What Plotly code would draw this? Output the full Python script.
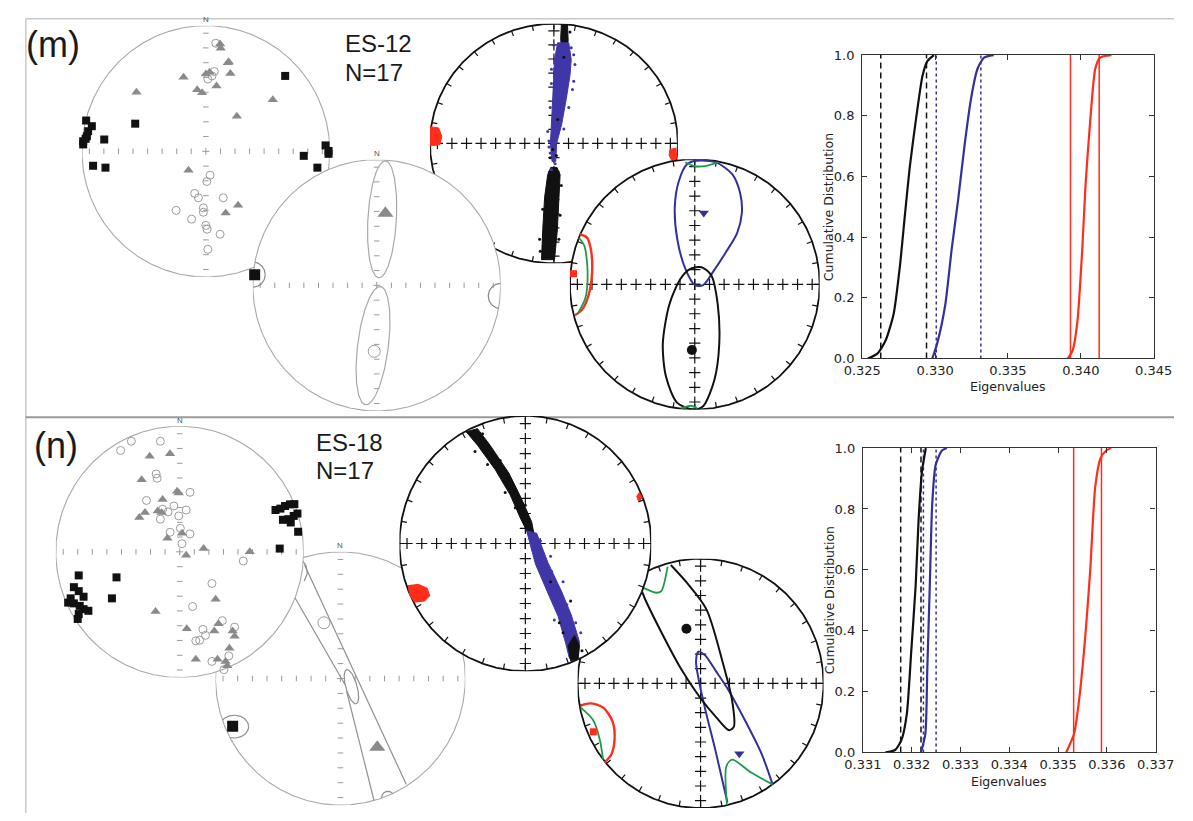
import numpy as np
import plotly.graph_objects as go

W, H = 1193, 821

# ============================ DATA ============================
# Stereonet values are normalised equal-area coordinates (unit circle).
# ---------- Panel (m) ES-12 ----------
M1_V1_SQUARES = [(0.64, 0.60), (-0.57, 0.22), (-0.966, 0.245), (-0.92, 0.20), (-0.96, 0.12), (-0.99, 0.08),
                 (-0.99, 0.055), (-0.82, 0.094), (-0.91, -0.115), (-0.81, -0.13), (0.966, 0.047), (0.99, 0.003),
                 (0.99, -0.02), (0.79, -0.036), (0.90, -0.13), (-0.97, 0.10), (-0.95, 0.16)]
M1_V2_TRIANGLES = [(0.115, 0.854), (0.12, 0.82), (0.177, 0.705), (0.198, 0.62), (-0.18, 0.59), (0.0, 0.615),
                   (0.03, 0.63), (0.086, 0.52), (-0.07, 0.49), (-0.03, 0.466), (-0.56, 0.47), (0.54, 0.41),
                   (0.25, 0.28), (-0.14, -0.15), (0.26, -0.43), (0.16, -0.49), (0.185, 0.71)]
M1_V3_CIRCLES = [(0.08, 0.86), (0.068, 0.635), (0.016, 0.575), (0.034, -0.19), (0.008, -0.24), (-0.09, -0.335),
                 (-0.06, -0.37), (0.14, -0.37), (-0.02, -0.45), (-0.02, -0.485), (-0.24, -0.47), (-0.115, -0.54),
                 (0.0, -0.59), (0.01, -0.62), (0.115, -0.66), (0.016, -0.78), (0.05, 0.60)]

M2_V1_MEAN = [(-0.985, 0.084)]
M2_V2_MEAN = [(0.07, 0.574)]
M2_V3_MEAN = [(-0.02, -0.525)]
M2_ELLIPSES = [(0.0435, 0.525, 0.466, 0.115, 86.7), (-0.03, -0.48, 0.474, 0.124, 82.7)]  # cx, cy, a, b, angle
M2_CONES = [(-1.0, 0.085, 0.10), (1.0, -0.085, 0.10)]  # cx, cy, radius

M3_V1_CLOUD_L = [(-1.0, 0.14), (-0.93, 0.13), (-0.905, 0.06), (-0.92, -0.01), (-1.0, -0.02)]
M3_V1_CLOUD_R = [(0.935, -0.05), (0.985, -0.04), (0.99, -0.13), (0.95, -0.14), (0.93, -0.10)]
M3_V3_CLOUD_TOP = [(0.06, 0.99), (0.11, 0.99), (0.115, 0.86), (0.105, 0.78), (0.06, 0.78), (0.055, 0.88)]
M3_V2_CLOUD = [(0.03, 0.84), (0.005, 0.70), (0.0, 0.57), (-0.01, 0.374), (-0.025, 0.156), (-0.028, 0.0),
               (-0.015, -0.15), (0.015, -0.15), (0.022, 0.0), (0.062, 0.156), (0.10, 0.374), (0.13, 0.57),
               (0.14, 0.70), (0.12, 0.84)]
M3_V3_CLOUD_BOT = [(-0.025, -0.20), (0.025, -0.20), (0.05, -0.26), (0.04, -0.45), (0.028, -0.72), (0.005, -0.97),
                   (-0.10, -0.97), (-0.09, -0.72), (-0.075, -0.45), (-0.05, -0.26)]
M3_STRAY_BLUE = [(-0.05, 0.10), (-0.04, 0.02), (-0.03, -0.08), (0.01, -0.17), (-0.02, -0.22), (0.17, 0.66),
                 (0.16, 0.52), (-0.03, 0.30), (0.14, 0.80), (0.0, 0.25), (0.15, 0.45), (-0.02, 0.62),
                 (0.12, 0.30), (0.08, 0.12), (-0.04, -0.03), (0.16, 0.74), (0.0, 0.82), (-0.02, 0.50)]
M3_STRAY_BLACK = [(-0.01, -0.05), (-0.03, -0.12), (0.02, -0.10), (0.08, 0.72), (0.03, 0.20), (-0.11, -0.90),
                  (0.05, -0.60), (0.06, -0.35), (-0.09, -0.55), (0.04, -0.80), (-0.115, -0.80), (0.13, 0.93)]

M4_V1_CONE = [(-0.92, 0.40), (-0.863, 0.373), (-0.832, 0.28), (-0.822, 0.098), (-0.85, -0.085), (-0.90, -0.20),
              (-0.96, -0.247)]
M4_V2_CONE = [(0.016, 0.987), (0.17, 0.974), (0.30, 0.88), (0.364, 0.725), (0.377, 0.569), (0.339, 0.41),
              (0.248, 0.255), (0.145, 0.098), (0.067, -0.006), (0.002, -0.006), (-0.075, 0.124), (-0.14, 0.36),
              (-0.16, 0.62), (-0.126, 0.83), (-0.062, 0.96), (0.016, 0.987)]
M4_V3_CONE = [(0.054, 0.137), (0.132, 0.072), (0.184, -0.163), (0.196, -0.477), (0.157, -0.765), (0.067, -0.974),
              (-0.01, -1.0), (-0.14, -0.947), (-0.23, -0.739), (-0.256, -0.477), (-0.204, -0.163),
              (-0.114, 0.045), (-0.036, 0.124), (0.054, 0.137)]
M4_GREEN = [[(-0.928, 0.372), (-0.884, 0.307), (-0.858, 0.098), (-0.876, -0.11), (-0.94, -0.24)],
            [(-0.075, 0.974), (-0.01, 0.947), (0.093, 0.947), (0.184, 0.974)],
            [(-0.11, -0.99), (-0.03, -0.97), (0.02, -0.99)]]
M4_V1_MEAN = [(-0.971, 0.085)]
M4_V2_MEAN = [(0.072, 0.569)]
M4_V3_MEAN = [(-0.023, -0.524)]

# ---------- Panel (n) ES-18 ----------
N1_V1_SQUARES = [(0.773, 0.333), (0.8125, 0.344), (0.85, 0.365), (0.89, 0.378), (0.925, 0.38), (0.833, 0.255),
                 (0.877, 0.26), (0.92, 0.286), (0.95, 0.305), (0.896, 0.234), (0.956, 0.16), (0.807, 0.026),
                 (-0.815, -0.1875), (-0.854, -0.281), (-0.815, -0.3125), (-0.776, -0.357), (-0.88, -0.37),
                 (-0.90, -0.404), (-0.854, -0.41), (-0.807, -0.43), (-0.776, -0.456), (-0.737, -0.469),
                 (-0.815, -0.495), (-0.823, -0.534), (-0.51, -0.203), (-0.547, -0.37)]
N1_V2_TRIANGLES = [(-0.242, 0.76), (-0.078, 0.78), (-0.307, 0.573), (-0.021, 0.482), (-0.008, 0.469),
                   (-0.138, 0.417), (-0.177, 0.326), (-0.146, 0.3125), (-0.28, 0.3125), (-0.326, 0.273),
                   (-0.099, 0.109), (0.018, 0.148), (0.193, 0.026), (0.565, 0.0), (0.052, -0.026),
                   (0.29, -0.378), (-0.195, -0.474), (0.057, -0.612), (0.279, -0.63), (0.3125, -0.573),
                   (0.427, -0.63), (0.443, -0.672), (0.401, -0.768), (0.13, -0.854), (0.305, -0.854),
                   (0.37, -0.872), (0.383, -0.906)]
N1_V3_CIRCLES = [(-0.477, 0.807), (-0.39, 0.88), (-0.156, 0.88), (-0.19, 0.62), (-0.182, 0.586), (0.083, 0.474),
                 (-0.268, 0.409), (-0.138, 0.339), (-0.094, 0.318), (-0.047, 0.365), (-0.008, 0.286),
                 (0.052, 0.333), (-0.156, 0.26), (-0.078, 0.156), (0.005, 0.1875), (0.083, 0.143),
                 (0.018, 0.065), (0.513, -0.073), (0.26, -0.252), (0.104, -0.435), (0.344, -0.547),
                 (0.1875, -0.617), (0.208, -0.664), (0.161, -0.703), (0.13, -0.708), (0.443, -0.599),
                 (0.396, -0.828), (0.26, -0.872), (0.357, -0.9375)]

N2_V1_MEAN = [(-0.863, -0.377)]
N2_V2_MEAN = [(0.295, -0.543)]
N2_V3_MEAN = [(-0.132, 0.44)]
N2_CONE_LINES = [[(-0.50, 0.865), (-0.357, 0.626), (0.036, -0.047)],
                 [(-0.287, 0.897), (0.527, -0.835)],
                 [(0.049, -0.098), (0.269, -0.964)],
                 [(-0.31, 0.94), (-0.275, 0.89), (-0.265, 0.83), (-0.29, 0.77)]]
N2_ELLIPSES = [(0.088, -0.065, 0.14, 0.045, -74.0), (-0.85, -0.38, 0.115, 0.09, 0.0)]
N2_CONES = [(0.38, -0.94, 0.05)]

N3_V3_CLOUD = [(-0.47, 0.875), (-0.38, 0.77), (-0.24, 0.58), (-0.12, 0.38), (-0.04, 0.20), (0.02, 0.08),
               (0.07, 0.07), (0.05, 0.17), (-0.03, 0.35), (-0.13, 0.55), (-0.28, 0.77), (-0.38, 0.90)]
N3_V2_CLOUD = [(0.01, 0.10), (0.08, -0.16), (0.18, -0.39), (0.26, -0.57), (0.32, -0.78), (0.35, -0.90),
               (0.42, -0.88), (0.43, -0.77), (0.365, -0.56), (0.29, -0.38), (0.18, -0.15), (0.09, 0.08)]
N3_V3_CLOUD_BOT = [(0.34, -0.80), (0.36, -0.92), (0.42, -0.90), (0.43, -0.80), (0.39, -0.72)]
N3_V1_CLOUD = [(-0.93, -0.33), (-0.85, -0.32), (-0.78, -0.35), (-0.76, -0.41), (-0.80, -0.45), (-0.88, -0.46),
               (-0.92, -0.40)]
N3_V1_CLOUD_R = [(0.905, 0.40), (0.93, 0.36), (0.90, 0.33), (0.885, 0.37)]
N3_STRAY_BLUE = [(0.12, 0.02), (0.21, -0.22), (0.30, -0.30), (0.16, -0.30), (0.25, -0.45), (0.40, -0.62),
                 (0.06, -0.05), (0.33, -0.48), (0.23, -0.60), (0.44, -0.70), (0.20, -0.10), (0.13, -0.22)]
N3_STRAY_BLACK = [(-0.20, 0.65), (-0.30, 0.62), (-0.08, 0.28), (0.27, -0.62), (0.36, -0.45), (0.30, -0.70),
                  (0.20, -0.30), (-0.40, 0.72), (-0.16, 0.40), (0.0, 0.30), (-0.34, 0.86), (0.45, -0.84)]

N4_V1_CONE = [(-0.976, -0.178), (-0.898, -0.16), (-0.793, -0.192), (-0.714, -0.31), (-0.70, -0.454),
              (-0.727, -0.572), (-0.78, -0.633)]
N4_V2_CONE = [(0.218, -0.953), (0.126, -0.559), (0.034, -0.192), (-0.018, 0.045), (-0.037, 0.176),
              (-0.018, 0.254), (0.034, 0.228), (0.126, 0.097), (0.231, -0.06), (0.362, -0.297),
              (0.494, -0.559), (0.585, -0.808)]
N4_V3_CONE = [(-0.242, 0.95), (-0.11, 0.806), (0.047, 0.596), (0.178, 0.176), (0.257, -0.139), (0.27, -0.349),
              (0.231, -0.375), (0.126, -0.27), (-0.005, -0.113), (-0.163, 0.123), (-0.32, 0.412),
              (-0.451, 0.675), (-0.478, 0.74), (-0.52, 0.80)]
N4_GREEN = [[(-0.976, -0.192), (-0.872, -0.297), (-0.819, -0.454), (-0.793, -0.612)],
            [(0.215, -0.975), (0.21, -0.664), (0.257, -0.612), (0.415, -0.717), (0.585, -0.81)],
            [(-0.50, 0.78), (-0.465, 0.766), (-0.36, 0.727), (-0.32, 0.74), (-0.268, 0.937)]]
N4_V1_MEAN = [(-0.872, -0.388)]
N4_V2_MEAN = [(0.315, -0.564)]
N4_V3_MEAN = [(-0.115, 0.438)]

# ---------- cumulative distributions of bootstrap eigenvalues ----------
M_TAU3_X = [0.32538, 0.32604, 0.32660, 0.32715, 0.32759, 0.32792, 0.32826, 0.32870, 0.32914, 0.32947, 0.32992]
M_TAU3_Y = [0, 0.016, 0.059, 0.146, 0.307, 0.469, 0.631, 0.793, 0.933, 0.98, 1.0]
M_TAU2_X = [0.32981, 0.33014, 0.3307, 0.33114, 0.33158, 0.33203, 0.33247, 0.33291, 0.33336, 0.33402]
M_TAU2_Y = [0, 0.049, 0.178, 0.361, 0.523, 0.706, 0.858, 0.955, 0.992, 1.0]
M_TAU1_X = [0.33911, 0.33944, 0.33977, 0.3401, 0.34033, 0.34066, 0.34099, 0.34132, 0.3421]
M_TAU1_Y = [0, 0.027, 0.124, 0.361, 0.577, 0.793, 0.955, 0.992, 1.0]
M_BOUNDS = {"tau3": [0.32627, 0.32941], "tau2": [0.33008, 0.33314], "tau1": [0.33929, 0.34126]}
M_XTICKS = [0.325, 0.330, 0.335, 0.340, 0.345]
M_XTICKTEXT = ["0.325", "0.330", "0.335", "0.340", "0.345"]

N_TAU3_X = [0.331462, 0.33166, 0.33179, 0.33190, 0.33199, 0.33208, 0.33214, 0.33221, 0.33229]
N_TAU3_Y = [0, 0.008, 0.041, 0.127, 0.331, 0.546, 0.761, 0.923, 1.0]
N_TAU2_X = [0.33219, 0.33228, 0.33232, 0.33237, 0.33242, 0.33249, 0.33262, 0.33272]
N_TAU2_Y = [0, 0.062, 0.277, 0.546, 0.815, 0.944, 0.992, 1.0]
N_TAU1_X = [0.335167, 0.33533, 0.33543, 0.33556, 0.33566, 0.33576, 0.33587, 0.33599, 0.33609]
N_TAU1_Y = [0, 0.062, 0.17, 0.385, 0.6, 0.869, 0.966, 0.992, 1.0]
N_BOUNDS = {"tau3": [0.331774, 0.33219], "tau2": [0.33224, 0.3325], "tau1": [0.33532, 0.33589]}
N_XTICKS = [0.331, 0.332, 0.333, 0.334, 0.335, 0.336, 0.337]
N_XTICKTEXT = ["0.331", "0.332", "0.333", "0.334", "0.335", "0.336", "0.337"]

Y_TICKS = [0.0, 0.2, 0.4, 0.6, 0.8, 1.0]
Y_TICKTEXT = ["0.0", "0.2", "0.4", "0.6", "0.8", "1.0"]

AXIS_MARKS = [0.118, 0.235, 0.353, 0.47, 0.588, 0.705, 0.823, 0.94]

# ============================ STYLE ============================
BLACK = "#111111"
BLUE = "#33309a"
CLOUD_BLUE = "#4036a8"
RED = "#ff2d1a"
GREEN = "#1f9a48"
GREY_LINE = "#a8a8a8"
GREY_TRI = "#8a8a8a"
GREY_CIR = "#9c9c9c"

fig = go.Figure()
layout_axes = {}


def ids(i):
    return ("x" if i == 1 else f"x{i}"), ("y" if i == 1 else f"y{i}")


def set_net_axes(i, cx, cy, rx, ry):
    xa, ya = ids(i)
    layout_axes["xaxis" if i == 1 else f"xaxis{i}"] = dict(
        domain=[(cx - rx) / W, (cx + rx) / W], range=[-1, 1], visible=False, fixedrange=True, anchor=ya)
    layout_axes["yaxis" if i == 1 else f"yaxis{i}"] = dict(
        domain=[1 - (cy + ry) / H, 1 - (cy - ry) / H], range=[-1, 1], visible=False, fixedrange=True, anchor=xa)


def add(i, x, y, **kw):
    xa, ya = ids(i)
    fig.add_trace(go.Scatter(x=list(x), y=list(y), xaxis=xa, yaxis=ya, cliponaxis=False,
                             hoverinfo="skip", showlegend=False, **kw))


def px(pts):
    return [p[0] for p in pts]


def py(pts):
    return [p[1] for p in pts]


def ellipse_pts(cx, cy, a, b, ang, clip=False):
    t = np.linspace(0, 2 * np.pi, 181)
    c, s = np.cos(np.radians(ang)), np.sin(np.radians(ang))
    ex = cx + a * np.cos(t) * c - b * np.sin(t) * s
    ey = cy + a * np.cos(t) * s + b * np.sin(t) * c
    xs, ys = [], []
    for u, v in zip(ex, ey):
        if clip and u * u + v * v > 1.0:
            xs.append(None); ys.append(None)
        else:
            xs.append(float(u)); ys.append(float(v))
    return xs, ys


def net_frame(i, kind):
    t = np.linspace(0, 2 * np.pi, 721)
    if kind == "grey":
        add(i, np.cos(t), np.sin(t), mode="lines", fill="toself", fillcolor="white",
            line=dict(color=GREY_LINE, width=1.1))
        h = [-r for r in AXIS_MARKS] + AXIS_MARKS
        add(i, h, [0] * len(h), mode="markers",
            marker=dict(symbol="line-ns", size=4, color="#9a9a9a", line=dict(width=1, color="#9a9a9a")))
        add(i, [0] * len(h), h, mode="markers",
            marker=dict(symbol="line-ew", size=4, color="#9a9a9a", line=dict(width=1, color="#9a9a9a")))
        add(i, [0], [0], mode="markers",
            marker=dict(symbol="cross-thin", size=5, color="#9a9a9a", line=dict(width=1, color="#9a9a9a")))
    else:
        add(i, np.cos(t), np.sin(t), mode="lines", fill="toself", fillcolor="white",
            line=dict(color=BLACK, width=1.8))
        tx, ty = [], []
        for deg in range(0, 360, 10):
            r = np.radians(deg)
            tx += [np.cos(r), 0.955 * np.cos(r), None]
            ty += [np.sin(r), 0.955 * np.sin(r), None]
        add(i, tx, ty, mode="lines", line=dict(color=BLACK, width=1.2))
        h = [-r for r in AXIS_MARKS] + [0.0] + AXIS_MARKS
        cx_ = h + [0.0] * len(h)
        cy_ = [0.0] * len(h) + h
        add(i, cx_, cy_, mode="markers",
            marker=dict(symbol="cross-thin", size=8, color=BLACK, line=dict(width=1.2, color=BLACK)))


def poly(i, pts, color):
    add(i, px(pts) + [pts[0][0]], py(pts) + [pts[0][1]], mode="lines", fill="toself", fillcolor=color,
        line=dict(color=color, width=1.0))


def curve(i, pts, color, width=2.0):
    add(i, px(pts), py(pts), mode="lines", line=dict(color=color, width=width, shape="spline", smoothing=0.8))


def pts_marker(i, pts, symbol, size, color, open_=False, lw=1.0):
    if open_:
        m = dict(symbol=symbol, size=size, color=color, line=dict(width=lw, color=color))
    else:
        m = dict(symbol=symbol, size=size, color=color, line=dict(width=0))
    add(i, px(pts), py(pts), mode="markers", marker=m)


# ---------------- panel (m) ----------------
# draw order: net1, net3, net2, net4
set_net_axes(1, 193, 147, 128, 128)
net_frame(1, "grey")
pts_marker(1, M1_V3_CIRCLES, "circle-open", 8, GREY_CIR, open_=True)
pts_marker(1, M1_V2_TRIANGLES, "triangle-up", 9, GREY_TRI)
pts_marker(1, M1_V1_SQUARES, "square", 8, BLACK)

set_net_axes(2, 552.5, 139, 128, 122)
net_frame(2, "black")
poly(2, M3_V1_CLOUD_L, RED)
poly(2, M3_V1_CLOUD_R, RED)
poly(2, M3_V3_CLOUD_TOP, BLACK)
poly(2, M3_V2_CLOUD, CLOUD_BLUE)
poly(2, M3_V3_CLOUD_BOT, BLACK)
pts_marker(2, M3_STRAY_BLUE, "circle", 3, CLOUD_BLUE)
pts_marker(2, M3_STRAY_BLACK, "circle", 3, BLACK)

set_net_axes(3, 369.5, 283.5, 128, 128)
net_frame(3, "grey")
for e in M2_ELLIPSES:
    ex, ey = ellipse_pts(*e)
    add(3, ex, ey, mode="lines", line=dict(color=GREY_LINE, width=1.2))
for c in M2_CONES:
    ex, ey = ellipse_pts(c[0], c[1], c[2], c[2], 0, clip=True)
    add(3, ex, ey, mode="lines", line=dict(color="#888888", width=1.2))
pts_marker(3, M2_V3_MEAN, "circle-open", 12, GREY_CIR, open_=True)
pts_marker(3, M2_V2_MEAN, "triangle-up", 14, GREY_TRI)
pts_marker(3, M2_V1_MEAN, "square", 11, BLACK)

set_net_axes(4, 698, 282.5, 129, 127.5)
net_frame(4, "black")
curve(4, M4_V2_CONE, BLUE)
curve(4, M4_V3_CONE, BLACK)
curve(4, M4_V1_CONE, RED, 2.4)
for g in M4_GREEN:
    curve(4, g, GREEN, 1.8)
pts_marker(4, M4_V1_MEAN, "square", 7, RED)
pts_marker(4, M4_V2_MEAN, "triangle-down", 9, BLUE)
pts_marker(4, M4_V3_MEAN, "circle", 10, BLACK)

# ---------------- panel (n) ----------------
# draw order: net2, net4, net1, net3
set_net_axes(5, 332, 684, 129, 129)
net_frame(5, "grey")
for ln in N2_CONE_LINES:
    add(5, px(ln), py(ln), mode="lines", line=dict(color="#8f8f8f", width=1.2))
for e in N2_ELLIPSES:
    ex, ey = ellipse_pts(*e, clip=True)
    add(5, ex, ey, mode="lines", line=dict(color="#8f8f8f", width=1.2))
for c in N2_CONES:
    ex, ey = ellipse_pts(c[0], c[1], c[2], c[2], 0, clip=True)
    add(5, ex, ey, mode="lines", line=dict(color="#8f8f8f", width=1.2))
pts_marker(5, N2_V3_MEAN, "circle-open", 12, GREY_CIR, open_=True)
pts_marker(5, N2_V2_MEAN, "triangle-up", 14, GREY_TRI)
pts_marker(5, N2_V1_MEAN, "square", 11, BLACK)

set_net_axes(6, 704, 689, 127, 127)
net_frame(6, "black")
curve(6, N4_V2_CONE, BLUE)
curve(6, N4_V3_CONE, BLACK)
curve(6, N4_V1_CONE, RED, 2.4)
for g in N4_GREEN:
    curve(6, g, GREEN, 1.8)
pts_marker(6, N4_V1_MEAN, "square", 7, RED)
pts_marker(6, N4_V2_MEAN, "triangle-down", 9, BLUE)
pts_marker(6, N4_V3_MEAN, "circle", 10, BLACK)

set_net_axes(7, 166, 555, 128, 128)
net_frame(7, "grey")
pts_marker(7, N1_V3_CIRCLES, "circle-open", 8, GREY_CIR, open_=True)
pts_marker(7, N1_V2_TRIANGLES, "triangle-up", 9, GREY_TRI)
pts_marker(7, N1_V1_SQUARES, "square", 8, BLACK)

set_net_axes(8, 523, 546.5, 130, 130)
net_frame(8, "black")
poly(8, N3_V1_CLOUD, RED)
poly(8, N3_V1_CLOUD_R, RED)
poly(8, N3_V3_CLOUD, BLACK)
poly(8, N3_V2_CLOUD, CLOUD_BLUE)
poly(8, N3_V3_CLOUD_BOT, BLACK)
pts_marker(8, N3_STRAY_BLUE, "circle", 3, CLOUD_BLUE)
pts_marker(8, N3_STRAY_BLACK, "circle", 3, BLACK)


# ---------------- CDF plots ----------------
def cdf_axes(i, x0, x1, y0, y1, xr, xt, xtt):
    xa, ya = ids(i)
    common = dict(ticks="inside", ticklen=5, tickwidth=1, tickcolor="#333", showline=True, linecolor="#333",
                  linewidth=1.3, mirror="ticks", showgrid=False, zeroline=False, fixedrange=True,
                  tickfont=dict(family="DejaVu Sans", size=13, color="#222"))
    layout_axes[f"xaxis{i}"] = dict(domain=[x0 / W, x1 / W], range=xr, anchor=ya, tickmode="array",
                                    tickvals=xt, ticktext=xtt, ticklabelstandoff=0, **common)
    layout_axes[f"yaxis{i}"] = dict(domain=[1 - y1 / H, 1 - y0 / H], range=[0, 1], anchor=xa, tickmode="array",
                                    tickvals=Y_TICKS, ticktext=Y_TICKTEXT, ticklabelstandoff=4, **common)


def cdf_traces(i, curves, bounds):
    styles = {"tau3": (BLACK, "6px,4px"), "tau2": (BLUE, "dot"), "tau1": (RED, "solid")}
    for key, (cx, cy) in curves.items():
        col, dash = styles[key]
        for v in bounds[key]:
            add(i, [v, v], [0, 1], mode="lines", line=dict(color=col, width=1.5, dash=dash))
    for key, (cx, cy) in curves.items():
        col = styles[key][0]
        add(i, cx, cy, mode="lines", line=dict(color=col, width=2.2, shape="spline", smoothing=0.6))


cdf_axes(9, 871, 1172, 49, 358, [0.325, 0.345], M_XTICKS, M_XTICKTEXT)
cdf_traces(9, {"tau3": (M_TAU3_X, M_TAU3_Y), "tau2": (M_TAU2_X, M_TAU2_Y), "tau1": (M_TAU1_X, M_TAU1_Y)},
           M_BOUNDS)
cdf_axes(10, 871.7, 1174, 449.3, 759.3, [0.331, 0.337], N_XTICKS, N_XTICKTEXT)
cdf_traces(10, {"tau3": (N_TAU3_X, N_TAU3_Y), "tau2": (N_TAU2_X, N_TAU2_Y), "tau1": (N_TAU1_X, N_TAU1_Y)},
           N_BOUNDS)


# ---------------- text ----------------
def ann(text, x, y, size, family="Liberation Sans", color="#1a1a1a", angle=0, xanchor="center"):
    return dict(text=text, x=x / W, y=1 - y / H, xref="paper", yref="paper", showarrow=False,
                xanchor=xanchor, yanchor="middle", textangle=angle, borderpad=0,
                font=dict(family=family, size=size, color=color))


annotations = [
    ann("(m)", 6, 38, 36, xanchor="left"),
    ann("ES-12", 336, 37, 24, xanchor="left"),
    ann("N=17", 336, 67, 24, xanchor="left"),
    ann("(n)", 14, 447, 36, xanchor="left"),
    ann("ES-18", 306, 444, 24, xanchor="left"),
    ann("N=17", 306, 472, 24, xanchor="left"),
    ann("N", 193, 13, 8, color="#555"),
    ann("N", 369.5, 149, 8, color="#555"),
    ann("N", 166, 421, 8, color="#555"),
    ann("N", 332, 549, 8, color="#555"),
    ann("Eigenvalues", 1022, 387, 12.5, family="DejaVu Sans", color="#222"),
    ann("Cumulative Distribution", 836, 203.5, 12.5, family="DejaVu Sans", color="#222", angle=-90),
    ann("Eigenvalues", 1023, 789, 12.5, family="DejaVu Sans", color="#222"),
    ann("Cumulative Distribution", 838, 604, 12.5, family="DejaVu Sans", color="#222", angle=-90),
]

shapes = [
    dict(type="line", xref="paper", yref="paper", x0=7 / W, x1=1, y0=1 - 12 / H, y1=1 - 12 / H,
         line=dict(color="#c8c8c8", width=1.5), layer="below"),
    dict(type="line", xref="paper", yref="paper", x0=7 / W, x1=7 / W, y0=0, y1=1 - 12 / H,
         line=dict(color="#c8c8c8", width=1.5), layer="below"),
    dict(type="line", xref="paper", yref="paper", x0=7 / W, x1=1, y0=1 - 418 / H, y1=1 - 418 / H,
         line=dict(color="#9a9a9a", width=2), layer="below"),
]

fig.update_layout(width=W, height=H, margin=dict(l=0, r=0, t=0, b=0), paper_bgcolor="white",
                  plot_bgcolor="rgba(0,0,0,0)", showlegend=False, annotations=annotations, shapes=shapes,
                  **layout_axes)
fig.write_html("out.html")
